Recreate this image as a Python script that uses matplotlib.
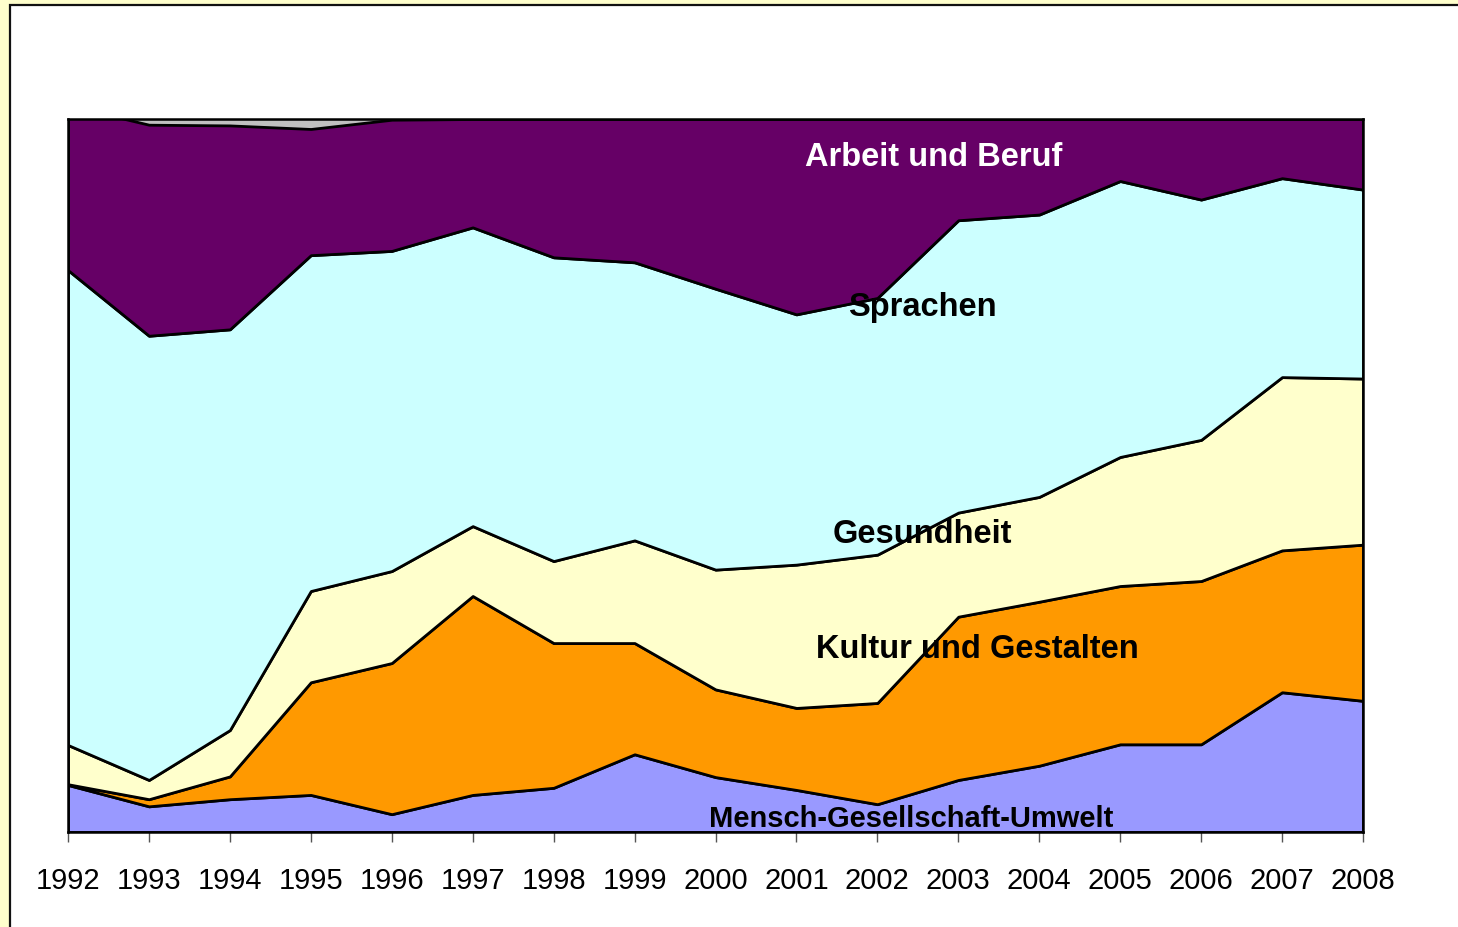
import matplotlib
matplotlib.use("Agg")
import matplotlib.pyplot as plt
from matplotlib.patches import Rectangle

# ---- data (percent share per year) ----
years = [1992, 1993, 1994, 1995, 1996, 1997, 1998, 1999, 2000,
         2001, 2002, 2003, 2004, 2005, 2006, 2007, 2008]
mensch = [6.6, 3.6, 4.6, 5.2, 2.5, 5.2, 6.2, 10.9, 7.7,
          5.9, 3.9, 7.3, 9.3, 12.3, 12.3, 19.6, 18.4]
kultur = [0.1, 1.0, 3.2, 15.8, 21.2, 27.9, 20.3, 15.6, 12.3,
          11.5, 14.2, 22.9, 23.0, 22.2, 22.9, 19.9, 21.9]
gesundheit = [5.5, 2.7, 6.5, 12.8, 12.9, 9.8, 11.5, 14.4, 16.8,
              20.1, 20.8, 14.6, 14.7, 18.1, 19.8, 24.3, 23.3]
sprachen = [66.6, 62.3, 56.2, 47.1, 44.9, 41.9, 42.6, 39.0, 39.4,
            35.1, 36.0, 41.0, 39.6, 38.7, 33.7, 27.9, 26.5]
arbeit = [23.1, 29.6, 28.6, 17.7, 18.4, 15.2, 19.4, 20.1, 23.8,
          27.4, 25.1, 14.2, 13.4, 8.7, 11.3, 8.3, 9.9]
sonstige = [-1.9, 0.8, 0.9, 1.4, 0.1, 0.0, 0.0, 0.0, 0.0,
            0.0, 0.0, 0.0, 0.0, 0.0, 0.0, 0.0, 0.0]

series_names = ["Mensch-Gesellschaft-Umwelt", "Kultur und Gestalten",
                "Gesundheit", "Sprachen", "Arbeit und Beruf", "Sonstige"]
colors = ["#9999FF", "#FF9900", "#FFFFCC", "#CCFFFF", "#660066", "#C0C0C0"]

plt.rcParams['font.family'] = ['Liberation Sans', 'DejaVu Sans']

fig = plt.figure(figsize=(14.58, 9.28), dpi=100)
fig.patch.set_facecolor('#FFFFCC')
frame = Rectangle((9.5 / 1458, -0.05), 1.2, (928 - 5.5) / 928 + 0.05,
                  transform=fig.transFigure, facecolor='white',
                  edgecolor='#111111', linewidth=1.6, zorder=-10)
fig.add_artist(frame)

ax = fig.add_axes([68 / 1458, (928 - 833) / 928, (1363 - 68) / 1458, (833 - 120) / 928])
ax.set_facecolor('white')

polys = ax.stackplot(years, mensch, kultur, gesundheit, sprachen, arbeit, sonstige,
                     colors=colors, labels=series_names,
                     edgecolor='black', linewidth=2.0)
polys[-1].set_edgecolor('#808080')
polys[-1].set_linewidth(1.0)
polys[-1].set_zorder(0.5)

ax.set_xlim(years[0], years[-1])
ax.set_ylim(0, 100)
ax.set_xticks(years)
ax.set_xticklabels([str(y) for y in years])
ax.set_yticks([])
ax.tick_params(axis='x', direction='out', length=7.2, width=1.0,
               color='#555555', pad=17, labelsize=21, labelcolor='black')
for side in ['left', 'bottom', 'right', 'top']:
    ax.spines[side].set_color('black')
    ax.spines[side].set_linewidth(1.8)

lab_kw = dict(ha='center', va='baseline', fontweight='bold')
ax.text(2002.70, 93.5, "Arbeit und Beruf", color='white', fontsize=23.5, **lab_kw)
ax.text(2002.56, 72.5, "Sprachen", color='black', fontsize=23.5, **lab_kw)
ax.text(2002.56, 40.7, "Gesundheit", color='black', fontsize=23.5, **lab_kw)
ax.text(2003.23, 24.5, "Kultur und Gestalten", color='black', fontsize=23.5, **lab_kw)
ax.text(2002.42, 0.84, "Mensch-Gesellschaft-Umwelt", color='black', fontsize=21, **lab_kw)

fig.savefig("out.png", dpi=100, facecolor=fig.get_facecolor())
